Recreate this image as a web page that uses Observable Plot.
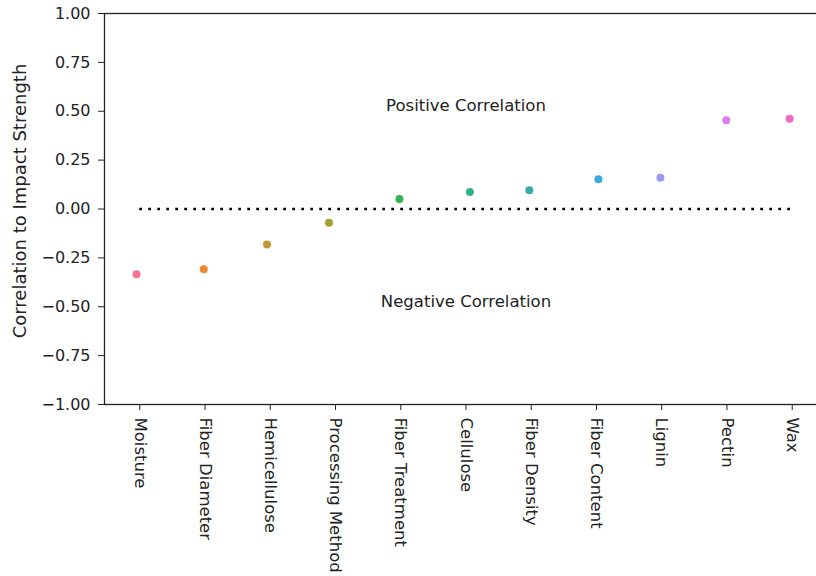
<!DOCTYPE html>
<html>
<head>
<meta charset="utf-8">
<script src="https://cdn.jsdelivr.net/npm/d3@7"></script>
<script src="https://cdn.jsdelivr.net/npm/@observablehq/plot@0.6"></script>
<style>
  html, body { margin: 0; padding: 0; background: #fff; overflow: hidden; }
  #chart svg { overflow: hidden; }
</style>
</head>
<body>
<div id="chart"></div>
<script>
const categories = ["Moisture", "Fiber Diameter", "Hemicellulose", "Processing Method", "Fiber Treatment", "Cellulose", "Fiber Density", "Fiber Content", "Lignin", "Pectin", "Wax"];
const correlations = [-0.334, -0.308, -0.181, -0.070, 0.051, 0.087, 0.096, 0.152, 0.160, 0.454, 0.462];
// strip-plot jitter (category units)
const jitter = [-0.05, -0.02, -0.05, -0.10, -0.02, 0.06, -0.03, 0.03, -0.02, -0.01, -0.04];
const colors = ["#f37590", "#ef8a2f", "#c39830", "#a0a033", "#33b350", "#35ae8c", "#37abaa", "#38a8dd", "#9d96f0", "#dc7ef0", "#f06bc8"];
const yTicks = [-1, -0.75, -0.5, -0.25, 0, 0.25, 0.5, 0.75, 1];
const annotations = [
  {label: "Positive Correlation", x: 5, y: 0.5},
  {label: "Negative Correlation", x: 5, y: -0.5}
];
const yLabel = "Correlation to Impact Strength";

const data = categories.map((c, i) => ({category: c, index: i, x: i + jitter[i], value: correlations[i]}));

const font = "DejaVu Sans, sans-serif";

const chart = Plot.plot({
  width: 816,
  height: 576,
  marginLeft: 104,
  marginRight: -11,
  marginTop: 13,
  marginBottom: 172,
  style: {fontFamily: font, fontSize: "16px", color: "#222", background: "#fff"},
  x: {domain: [-0.541, 10.541]},
  y: {domain: [-1, 1]},
  color: {domain: categories, range: colors},
  marks: [
    Plot.frame({stroke: "#222", strokeWidth: 1.3}),
    Plot.axisY({ticks: yTicks, tickFormat: d3.format(".2f"), tickSize: 6, tickPadding: 8, label: null, fontSize: 16, stroke: "#222"}),
    Plot.axisX({ticks: d3.range(categories.length), tickFormat: i => categories[i], tickSize: 6, tickPadding: 7, tickRotate: 90, label: null, fontSize: 16.5, stroke: "#222"}),
    Plot.ruleY([0], {x1: 0, x2: categories.length - 1, stroke: "#000", strokeWidth: 2.7, strokeDasharray: "2.7,6.3"}),
    Plot.dot(data, {x: "x", y: "value", fill: d => d.category, r: 4, stroke: null}),
    Plot.text(annotations, {x: "x", y: "y", text: "label", textAnchor: "middle", lineAnchor: "bottom", fontSize: 16.5, fill: "#222"}),
    Plot.text([yLabel], {text: d => d, frameAnchor: "left", textAnchor: "middle", dx: -84, dy: -8, rotate: -90, fontSize: 18, fill: "#222"})
  ]
});
document.getElementById("chart").appendChild(chart);
</script>
</body>
</html>
